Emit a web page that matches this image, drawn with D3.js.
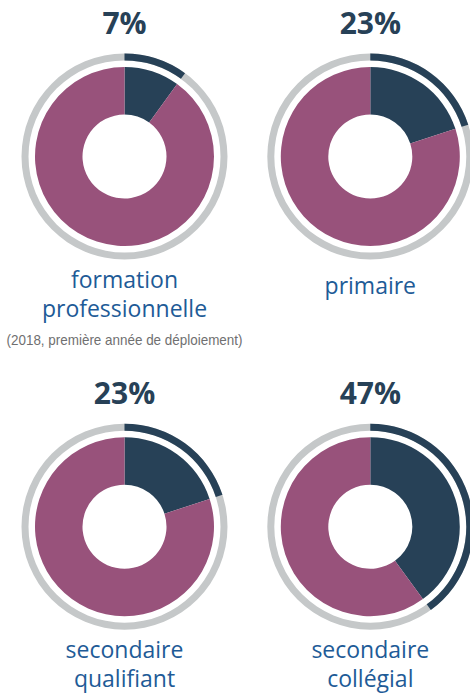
<!DOCTYPE html>
<html>
<head>
<meta charset="utf-8">
<script src="https://cdn.jsdelivr.net/npm/d3@7"></script>
<style>
  body { margin: 0; background: #fff; }
  svg { display: block; }
</style>
</head>
<body>
<svg></svg>
<script>
var width = 470;
var height = 695;

// data
var categories = ["formation professionnelle", "primaire", "secondaire qualifiant", "secondaire collégial"];
var labelLines = [["formation", "professionnelle"], ["primaire"], ["secondaire", "qualifiant"], ["secondaire", "collégial"]];
var pctLabels = ["7%", "23%", "23%", "47%"];
var shares = [10, 20, 20, 40]; // slice size as drawn, in %
var notes = ["(2018, première année de déploiement)", "", "", ""];

var navy = "#274157";
var purple = "#98527b";
var grey = "#c5c8c9";
var blue = "#1e5b97";

var svg = d3.select("svg")
    .attr("width", width)
    .attr("height", height);

var xScale = d3.scalePoint().domain([0, 1]).range([124.5, 370.3]);
var yScale = d3.scalePoint().domain([0, 1]).range([156.5, 526.7]);

var pie = d3.pie().sort(null).value(d => d);
var ringArc = d3.arc().innerRadius(96).outerRadius(103);
var donutArc = d3.arc().innerRadius(42).outerRadius(89.5);

var colorScale = d3.scaleOrdinal().domain([0, 1]).range([navy, purple]);

var groups = svg.selectAll("g.donut")
  .data(categories)
  .enter()
  .append("g")
    .attr("class", "donut")
    .attr("transform", (d, i) => "translate(" + xScale(i % 2) + "," + yScale(Math.floor(i / 2)) + ")");

// outer grey ring with the navy arc on top
groups.append("path")
    .attr("d", d => ringArc({startAngle: 0, endAngle: 2 * Math.PI}))
    .attr("fill", grey);

groups.append("path")
    .attr("d", (d, i) => ringArc(pie([shares[i], 100 - shares[i]])[0]))
    .attr("fill", navy);

// inner donut
groups.selectAll("path.slice")
  .data((d, i) => pie([shares[i], 100 - shares[i]]))
  .enter()
  .append("path")
    .attr("class", "slice")
    .attr("d", donutArc)
    .attr("fill", (d, j) => colorScale(j));

// percentage above each donut
groups.append("text")
    .attr("x", 0)
    .attr("y", -123)
    .attr("text-anchor", "middle")
    .style("font-family", "'Open Sans', sans-serif")
    .style("font-weight", "bold")
    .style("font-size", "30px")
    .attr("fill", navy)
    .text((d, i) => pctLabels[i]);

// category label under each donut, one text per line
groups.each(function(d, i) {
  var lines = labelLines[i];
  d3.select(this).selectAll("text.label")
    .data(lines)
    .enter()
    .append("text")
      .attr("class", "label")
      .attr("x", 0)
      .attr("y", (t, j) => lines.length === 1 ? 137.5 : 131.5 + j * 29)
      .attr("text-anchor", "middle")
      .style("font-family", "'Open Sans', sans-serif")
      .style("font-size", "23px")
      .attr("fill", blue)
      .text(t => t);
});

groups.filter((d, i) => notes[i] !== "")
  .append("text")
    .attr("x", 0)
    .attr("y", 188.5)
    .attr("text-anchor", "middle")
    .attr("textLength", 236)
    .attr("lengthAdjust", "spacingAndGlyphs")
    .style("font-family", "'Liberation Sans Narrow', 'Liberation Sans', sans-serif")
    .style("font-size", "15px")
    .attr("fill", "#6f6f70")
    .text(notes[0]);
</script>
</body>
</html>
